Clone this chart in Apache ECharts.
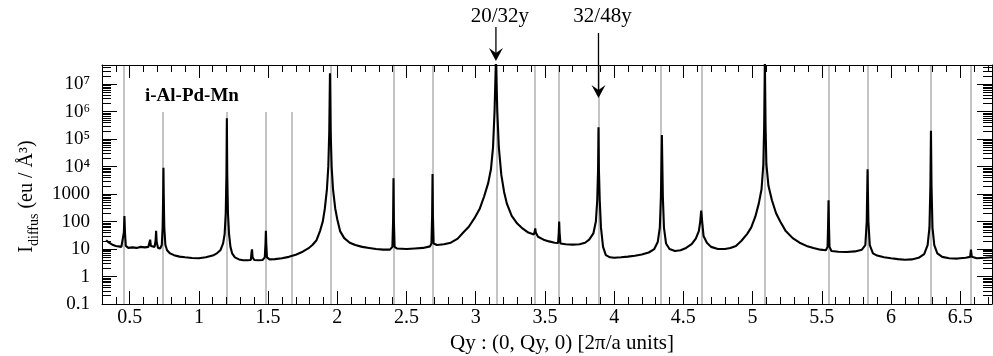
<!DOCTYPE html>
<html>
<head>
<meta charset="utf-8">
<script src="https://cdn.jsdelivr.net/npm/echarts@6/dist/echarts.min.js"></script>
<style>
  html, body { margin: 0; padding: 0; background: #fff; }
  #main { width: 993px; height: 356px; }
</style>
</head>
<body>
<div id="main"></div>
<script>
// scan: [Qy, intensity]
const scanLow = [
  [0.330,21],[0.345,18],[0.360,16],[0.380,14],[0.400,13],[0.420,12.5],[0.440,12],[0.452,14],[0.458,40],[0.462,160],
  [0.466,40],[0.472,13],[0.490,11],[0.520,11.5],[0.550,11],[0.580,12],[0.610,11.5],[0.635,12],[0.643,14],[0.648,22],
  [0.653,13],[0.665,11.5],[0.680,12],[0.687,20],[0.691,46],[0.695,18],[0.705,11],[0.720,10.5],[0.732,14],[0.738,60],
  [0.742,1000],[0.744,9000],[0.746,1000],[0.750,60],[0.758,14],[0.770,9],[0.790,7],[0.820,6],[0.860,5.3],[0.900,5],
  [0.950,4.7],[1.000,4.6],[1.050,5],[1.100,5.8],[1.130,7],[1.155,9],[1.175,16],[1.186,35],[1.194,200],[1.199,5000],
  [1.202,580000],[1.205,5000],[1.210,200],[1.218,35],[1.228,12],[1.240,7],[1.260,5],[1.290,4.2],[1.320,3.9],[1.350,3.9],
  [1.375,4],[1.381,8],[1.384,9.7],[1.388,5],[1.400,4],[1.430,3.9],[1.460,4],[1.476,5],[1.481,15],[1.484,46],
  [1.487,15],[1.492,5]
];
const scanMid = [
  [1.510,4.2],[1.550,4.3],[1.600,4.6],[1.650,5.2],[1.700,6.2],[1.750,8],[1.790,10.5],[1.820,14],[1.850,21],[1.875,45],
  [1.895,100],[1.910,300],[1.925,1500],[1.935,10000],[1.942,200000],[1.947,25000000],[1.952,200000],[1.959,10000],[1.969,1500],[1.985,300],
  [2.000,120],[2.020,45],[2.050,25],[2.090,17],[2.130,14],[2.180,12],[2.230,11],[2.280,10],[2.330,9.5],[2.380,9.5],
  [2.398,12],[2.403,100],[2.406,3800],[2.409,100],[2.414,12],[2.430,10.5],[2.500,10],[2.560,10.5],[2.620,11],[2.670,12.5],
  [2.680,16],[2.685,150],[2.688,5400],[2.691,150],[2.696,16],[2.720,14],[2.770,15],[2.820,17],[2.870,24],[2.910,40],
  [2.950,65],[2.990,130],[3.030,300],[3.060,800],[3.090,2500],[3.110,8000],[3.125,50000],[3.136,1000000],[3.146,80000000],[3.156,1000000],
  [3.167,50000],[3.185,5000],[3.205,1200],[3.225,450],[3.260,160],[3.300,85],[3.340,55],[3.380,40],[3.420,34],[3.427,45],
  [3.430,56],[3.434,40],[3.450,28],[3.490,22],[3.530,19],[3.570,17],[3.595,16.5],[3.600,40],[3.603,100],[3.606,40],
  [3.612,16]
];
const scanHigh = [
  [3.650,15],[3.700,14.5],[3.750,15],[3.790,17],[3.820,22],[3.850,37],[3.868,100],[3.878,600],[3.884,8000],[3.887,270000],
  [3.890,8000],[3.896,600],[3.905,60],[3.920,12],[3.940,6],[3.970,5],[4.000,4.8],[4.050,5],[4.100,5.3],[4.150,5.7],
  [4.200,6.3],[4.250,7.5],[4.290,10],[4.315,18],[4.330,60],[4.338,800],[4.342,15000],[4.345,140000],[4.348,15000],[4.352,800],
  [4.360,60],[4.375,16],[4.400,10],[4.440,8.5],[4.480,9],[4.520,11],[4.560,15],[4.590,24],[4.612,45],[4.622,100],
  [4.629,250],[4.636,100],[4.646,30],[4.670,17],[4.700,12],[4.750,10],[4.800,10],[4.840,11],[4.880,13],[4.920,20],
  [4.960,35],[4.990,60],[5.020,150],[5.045,450],[5.065,1500],[5.078,12000],[5.084,300000],[5.089,80000000],[5.094,300000],[5.100,12000],
  [5.115,2000],[5.140,600],[5.170,200],[5.200,100],[5.240,45],[5.290,25],[5.340,17],[5.390,13],[5.440,11],[5.490,9.5],
  [5.530,9],[5.542,12],[5.546,80],[5.549,600],[5.552,80],[5.556,12],[5.570,8.5],[5.620,8],[5.680,7.8],[5.740,8.2],
  [5.790,9.5],[5.815,14],[5.825,100],[5.831,8000],[5.837,100],[5.847,14],[5.870,7],[5.900,5.8],[5.950,5],[6.000,4.6],
  [6.050,4.3],[6.100,4.1],[6.150,4.2],[6.200,4.8],[6.240,6.5],[6.265,14],[6.278,60],[6.285,2000],[6.289,200000],[6.293,2000],
  [6.300,60],[6.313,14],[6.335,7],[6.370,5.2],[6.420,4.6],[6.480,4.5],[6.540,4.8],[6.572,5.2],[6.578,9.6],[6.584,5.2],
  [6.620,4.6],[6.680,4.8],[6.730,5]
];

// grey reference lines (Bragg positions)
const braggQ = [0.462, 0.744, 1.202, 1.484, 1.665, 1.947, 2.406, 2.688, 3.146, 3.430,
  3.603, 3.887, 4.345, 4.629, 5.089, 5.549, 5.831, 6.289, 6.578];

const xTickValues = [0.5, 1, 1.5, 2, 2.5, 3, 3.5, 4, 4.5, 5, 5.5, 6, 6.5];
const xTickLabels = ['0.5', '1', '1.5', '2', '2.5', '3', '3.5', '4', '4.5', '5', '5.5', '6', '6.5'];
const yDecades = [-1, 0, 1, 2, 3, 4, 5, 6, 7];
const yTickLabels = ['0.1', '1', '10', '100', '1000', '10⁴', '10⁵', '10⁶', '10⁷'];

const arrows = [
  { q: 3.146, label: '20/32y', from: 27, to: 61 },
  { q: 3.887, label: '32/48y', from: 33, to: 98 }
];

const xMin = 0.3, xMax = 6.73;
const yMin = -1, yMax = Math.log10(5e7);
const serif = '"Liberation Serif", "Times New Roman", serif';

var xMinor = [];
for (var k = 3; k <= 67; k++) xMinor.push(k / 10);
var yMinor = [];
yDecades.forEach(function (e) {
  for (var m = 2; m <= 9; m++) {
    var v = e + Math.log10(m);
    if (v < yMax) yMinor.push(v);
  }
});

var scan = scanLow.concat(scanMid, scanHigh);
var lineData = scan.map(function (p) { return [p[0], Math.log10(p[1])]; });

function xAxisDef(pos, minor) {
  return {
    type: 'value', gridIndex: 0, position: pos, min: xMin, max: xMax, z: 5,
    axisLine: { show: !minor, onZero: false, lineStyle: { color: '#000', width: 1 } },
    axisTick: { show: true, inside: true, length: minor ? 7 : 13,
      customValues: minor ? xMinor : xTickValues, lineStyle: { color: '#000', width: 1 } },
    axisLabel: (pos === 'bottom' && !minor) ? {
      show: true, customValues: xTickValues, margin: 4, color: '#000',
      fontFamily: serif, fontSize: 20,
      formatter: function (v) {
        for (var i = 0; i < xTickValues.length; i++) if (Math.abs(xTickValues[i] - v) < 1e-6) return xTickLabels[i];
        return '';
      }
    } : { show: false },
    splitLine: { show: false }
  };
}
function yAxisDef(pos, minor) {
  return {
    type: 'value', gridIndex: 0, position: pos, min: yMin, max: yMax, z: 5,
    axisLine: { show: !minor, onZero: false, lineStyle: { color: '#000', width: 1 } },
    axisTick: { show: true, inside: true, length: minor ? 9 : 15,
      customValues: minor ? yMinor : yDecades, lineStyle: { color: '#000', width: 1 } },
    axisLabel: (pos === 'left' && !minor) ? {
      show: true, customValues: yDecades, margin: 12, color: '#000',
      fontFamily: serif, fontSize: 19,
      formatter: function (v) { return yTickLabels[Math.round(v) - yDecades[0]]; }
    } : { show: false },
    splitLine: { show: false }
  };
}

var xMain = xAxisDef('bottom', false);
xMain.name = 'Qy : (0, Qy, 0) [2π/a units]';
xMain.nameLocation = 'middle';
xMain.nameGap = 21;
xMain.nameTextStyle = { fontFamily: serif, fontSize: 21, color: '#000', padding: [0, 0, 0, 30] };

var yMain = yAxisDef('left', false);
yMain.name = '{i|I}{sub|diffus}{u| (eu / Å³)}';
yMain.nameLocation = 'middle';
yMain.nameGap = 54;
yMain.nameTextStyle = {
  color: '#000',
  padding: [0, 24, 0, 0],
  rich: {
    i: { fontFamily: serif, fontSize: 20, color: '#000' },
    sub: { fontFamily: serif, fontSize: 14, lineHeight: 14, padding: [14, 0, 0, 0], color: '#000' },
    u: { fontFamily: serif, fontSize: 20, color: '#000' }
  }
};

var chart = echarts.init(document.getElementById('main'), null, { renderer: 'canvas' });
var option = {
  animation: false,
  backgroundColor: '#fff',
  grid: { left: 102, right: 1, top: 65, bottom: 52, outerBoundsMode: 'none', containLabel: false },
  xAxis: [xMain, xAxisDef('bottom', true), xAxisDef('top', false), xAxisDef('top', true)],
  yAxis: [yMain, yAxisDef('left', true), yAxisDef('right', false), yAxisDef('right', true)],
  series: [
    {
      name: 'bragg', type: 'line', xAxisIndex: 0, yAxisIndex: 0, data: [], z: 1,
      markLine: {
        silent: true, symbol: ['none', 'none'], z: 1, animation: false,
        label: { show: false },
        lineStyle: { color: '#c4c4c4', width: 2, type: 'solid' },
        data: braggQ.map(function (q) { return { xAxis: q }; })
      }
    },
    {
      name: 'scan', type: 'line', xAxisIndex: 0, yAxisIndex: 0, z: 3,
      data: lineData, showSymbol: false, clip: true,
      lineStyle: { color: '#000', width: 2.1 }
    }
  ]
};
chart.setOption(option);

var gfx = [
  { type: 'rect', z: 2, shape: { x: 127, y: 66, width: 167, height: 46 }, style: { fill: '#fff' } },
  { type: 'text', z: 4, x: 145, y: 96,
    style: { text: 'i-Al-Pd-Mn', font: 'bold 19px ' + serif, fill: '#000', align: 'left', verticalAlign: 'middle' } }
];
arrows.forEach(function (a) {
  var x = chart.convertToPixel({ xAxisIndex: 0 }, a.q);
  gfx.push({ type: 'text', z: 6, x: x + 4, y: 16,
    style: { text: a.label, font: '21px ' + serif, fill: '#000', align: 'center', verticalAlign: 'middle' } });
  gfx.push({ type: 'line', z: 6, shape: { x1: x, y1: a.from, x2: x, y2: a.to - 6 },
    style: { stroke: '#000', lineWidth: 1.3 } });
  gfx.push({ type: 'polygon', z: 6,
    shape: { points: [[x, a.to], [x - 7, a.to - 13], [x, a.to - 8], [x + 7, a.to - 13]] },
    style: { fill: '#000' } });
});
chart.setOption({ graphic: gfx });
</script>
</body>
</html>
